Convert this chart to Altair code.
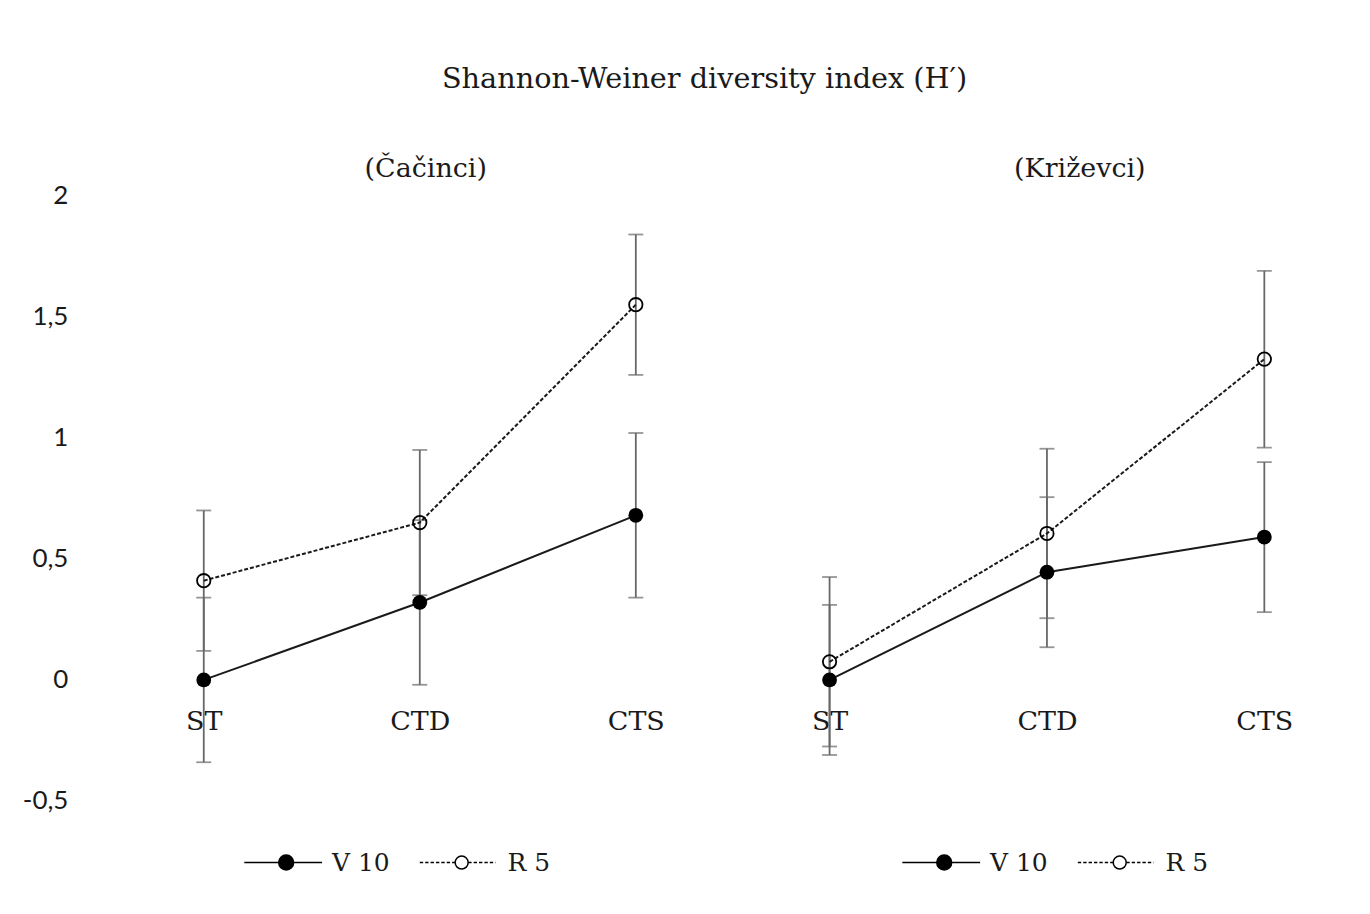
import altair as alt
import pandas as pd

# ---------------- data ----------------
treatments = ["ST", "CTD", "CTS"]
series_names = ["V 10", "R 5"]

cac_v10 = [0.00, 0.32, 0.68]
cac_v10_err = [0.34, 0.34, 0.34]
cac_r5 = [0.41, 0.65, 1.55]
cac_r5_err = [0.29, 0.30, 0.29]

kri_v10 = [0.00, 0.445, 0.59]
kri_v10_err = [0.31, 0.31, 0.31]
kri_r5 = [0.075, 0.605, 1.325]
kri_r5_err = [0.35, 0.35, 0.365]

y_ticks = [-0.5, 0, 0.5, 1, 1.5, 2]


def make_df(v10, v10e, r5, r5e):
    rows = []
    for t, v, e in zip(treatments, v10, v10e):
        rows.append({"treatment": t, "series": "V 10", "value": v, "err": e})
    for t, v, e in zip(treatments, r5, r5e):
        rows.append({"treatment": t, "series": "R 5", "value": v, "err": e})
    return pd.DataFrame(rows)


df_cac = make_df(cac_v10, cac_v10_err, cac_r5, cac_r5_err)
df_kri = make_df(kri_v10, kri_v10_err, kri_r5, kri_r5_err)

# ---------------- styles ----------------
SERIF = "DejaVu Serif"
SANS = "Lato"
TXT = "#1a1a1a"
ERR = "#686868"
H = 607
W_LEFT = 650
W_RIGHT = 600


def legend_paths():
    k_r = 1.0
    cx = 4.6
    v10 = (f"M-1,0H9.4M{cx + k_r},0A{k_r},{k_r},0,1,1,{cx - k_r},0"
           f"A{k_r},{k_r},0,1,1,{cx + k_r},0Z")
    r = 0.87
    segs = []
    x = -1.0
    dash, gap = 0.45, 0.27
    while x < 9.13:
        x2 = min(x + dash, 9.13)
        if not (x2 > cx - r and x < cx + r):
            segs.append(f"M{x:.2f},0H{x2:.2f}")
        elif x < cx - r:
            segs.append(f"M{x:.2f},0H{cx - r:.2f}")
        elif x2 > cx + r:
            segs.append(f"M{cx + r:.2f},0H{x2:.2f}")
        x += dash + gap
    r5 = "".join(segs) + (f"M{cx + r},0A{r},{r},0,1,1,{cx - r},0"
                          f"A{r},{r},0,1,1,{cx + r},0Z")
    return [v10, r5]


PATHS = legend_paths()


def panel(df, title, width, pad, align, show_y, leg_x, title_dx, title_off):
    xscale = alt.Scale(type="point", padding=pad, align=align)
    x = alt.X("treatment:N", sort=treatments, scale=xscale,
              axis=alt.Axis(title=None, labelAngle=0, domain=False, ticks=False,
                            grid=False, labelFont=SERIF, labelFontSize=27,
                            labelColor=TXT, labelPadding=29,
                            offset=-(H - H * 2 / 2.5)))
    if show_y:
        yaxis = alt.Axis(values=y_ticks, title=None, domain=False, ticks=False,
                         grid=False, labelFont=SANS, labelFontSize=26,
                         labelColor=TXT, labelPadding=28,
                         labelExpr="replace('' + datum.value, '.', ',')")
    else:
        yaxis = None
    yscale = alt.Scale(domain=[-0.5, 2], nice=False, zero=False)

    def Y(field):
        if yaxis is None:
            return alt.Y(field, scale=yscale, axis=None)
        return alt.Y(field, scale=yscale, axis=yaxis)

    base = alt.Chart(df).transform_calculate(
        lo="datum.value - datum.err", hi="datum.value + datum.err"
    )
    v10 = base.transform_filter(alt.datum.series == "V 10")
    r5 = base.transform_filter(alt.datum.series == "R 5")

    rule = base.mark_rule(color=ERR, strokeWidth=1.8).encode(
        x=x, y=Y("lo:Q"), y2="hi:Q")
    tick_lo = base.mark_tick(color=ERR, thickness=1.8, size=15).encode(
        x=x, y=Y("lo:Q"))
    tick_hi = base.mark_tick(color=ERR, thickness=1.8, size=15).encode(
        x=x, y=Y("hi:Q"))

    line_v = v10.mark_line(color=TXT, strokeWidth=2).encode(
        x=x, y=Y("value:Q"))
    line_r = r5.mark_line(color=TXT, strokeWidth=2, strokeDash=[4, 2]).encode(
        x=x, y=Y("value:Q"))

    pts_v = v10.mark_point(
        shape="circle", filled=True, color="black", size=220, opacity=1
    ).encode(x=x, y=Y("value:Q"))
    pts_r = r5.mark_point(
        shape="circle", filled=False, color="black", strokeWidth=1.8,
        size=180, opacity=1
    ).encode(x=x, y=Y("value:Q"))

    leg = alt.Legend(title=None, orient="none", legendX=leg_x, legendY=656,
                     direction="horizontal", symbolSize=225,
                     labelFont=SERIF, labelFontSize=25, labelColor=TXT,
                     labelOffset=68, columnPadding=25, padding=0,
                     labelLimit=0)
    legend_layer = base.transform_filter("false").mark_point(
        stroke="black", strokeWidth=2, size=225, opacity=1
    ).encode(
        x=x, y=Y("value:Q"),
        shape=alt.Shape("series:N", sort=series_names,
                        scale=alt.Scale(domain=series_names, range=PATHS),
                        legend=leg),
        fill=alt.Fill("series:N", sort=series_names,
                      scale=alt.Scale(domain=series_names,
                                      range=["black", "white"]),
                      legend=leg),
    )

    return alt.layer(rule, tick_lo, tick_hi, line_v, line_r, pts_v, pts_r,
                     legend_layer).properties(
        width=width, height=H,
        title=alt.TitleParams(title, font=SERIF, fontSize=27,
                              fontWeight="normal", color=TXT, anchor="middle",
                              offset=title_off, dx=title_dx))


left = panel(df_cac, "(Čačinci)", W_LEFT, 0.5, 0.5, True, 144, 6, 0)
right = panel(df_kri, "(Križevci)", W_RIGHT, 0.376, 0.433, False, 139, 22, 13)

chart = alt.hconcat(left, right, spacing=15).resolve_scale(
    x="independent", y="independent", shape="independent",
    fill="independent"
).resolve_legend(
    shape="independent", fill="independent"
).properties(
    title=alt.TitleParams("Shannon-Weiner diversity index (H′)", font=SERIF,
                          fontSize=28.8, fontWeight="normal", color=TXT,
                          anchor="middle", offset=61, dx=15),
    padding={"left": 14, "top": 56, "right": 5, "bottom": 20},
    background="white",
).configure_view(strokeWidth=0)

chart.save("out.html", embed_options={"renderer": "svg", "actions": False})
